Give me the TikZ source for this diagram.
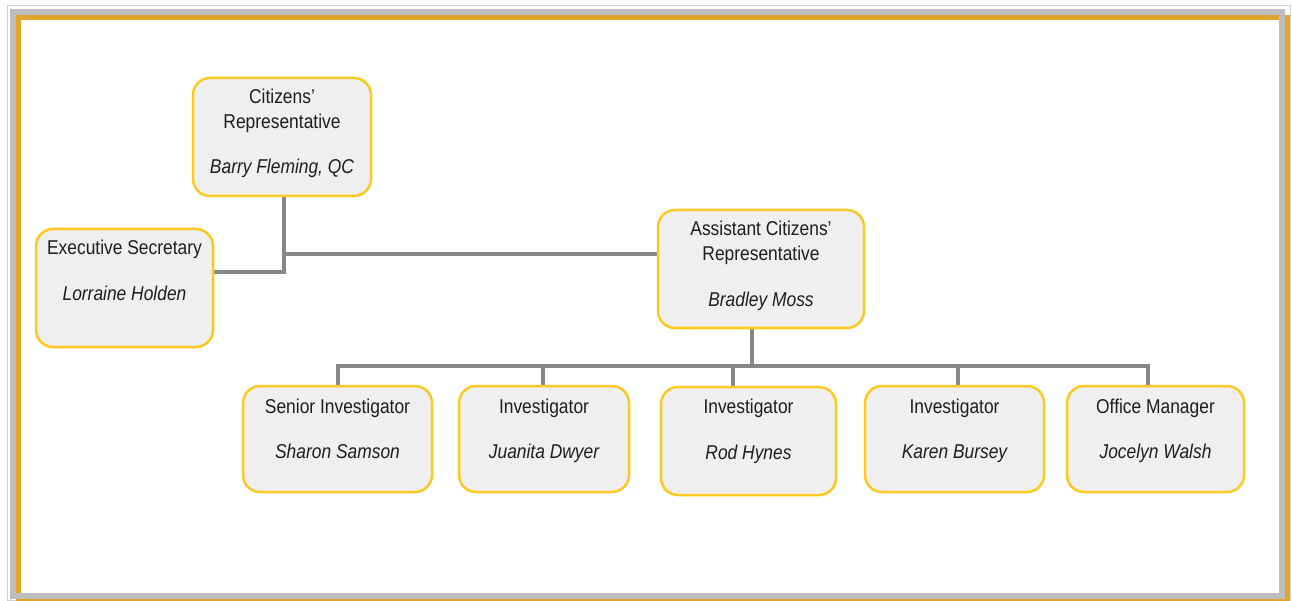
\documentclass[tikz,border=0pt]{standalone}
\usepackage{fontspec}
\setmainfont{Liberation Sans}[FakeStretch=0.87]
\definecolor{gold}{HTML}{E0A62C}
\definecolor{band}{HTML}{BEBEBE}
\definecolor{thinline}{HTML}{D4D4D4}
\definecolor{boxline}{HTML}{FBC91F}
\definecolor{boxfill}{HTML}{EFEFEF}
\definecolor{wirecol}{HTML}{878787}
\definecolor{ink}{HTML}{1E1E1E}
\begin{document}
\begin{tikzpicture}[x=1pt,y=-1pt,
  box/.style={draw=boxline, fill=boxfill, line width=2.5pt, rounded corners=17pt, inner sep=0pt},
  ttl/.style={font=\fontsize{20}{24}\selectfont, text=ink, anchor=base, inner sep=0pt},
  nm/.style={font=\fontsize{20}{24}\selectfont\itshape, text=ink, anchor=base, inner sep=0pt},
  wire/.style={draw=wirecol, line width=4pt}]
\useasboundingbox (0,0) rectangle (1292,601);
% frame
\draw[thinline, line width=1pt] (7.5,5.5) rectangle (1290.5,600);
\draw[gold, line width=5pt] (18.5,17.5) rectangle (1287.5,599.5);
\draw[band, line width=6pt] (13,12) rectangle (1282,595.5);
% junction coordinates
\coordinate (j1) at (284,272);
\coordinate (j2) at (284,254);
\coordinate (b0) at (752,366);
\coordinate (d1) at (337.5,366);
\coordinate (d2) at (543,366);
\coordinate (d3) at (733,366);
\coordinate (d4) at (958,366);
\coordinate (d5) at (1148,366);
% boxes (placed first for anchors, drawn over wires later)
\path (282,137) node[minimum width=178pt, minimum height=118pt] (cr) {};
\path (124.5,288) node[minimum width=177pt, minimum height=118pt] (es) {};
\path (761,269) node[minimum width=206pt, minimum height=118pt] (acr) {};
\path (337.5,439) node[minimum width=189pt, minimum height=106pt] (si) {};
\path (544,439) node[minimum width=170pt, minimum height=106pt] (jd) {};
\path (748.5,441) node[minimum width=175pt, minimum height=108pt] (rh) {};
\path (954.5,439) node[minimum width=179pt, minimum height=106pt] (kb) {};
\path (1155.5,439) node[minimum width=177pt, minimum height=106pt] (om) {};
% wires
\draw[wire] (j1 |- cr.south) -- (j1) -- (es.east |- j1);
\draw[wire] (j2) -- (acr.west |- j2);
\draw[wire] (b0 |- acr.south) -- (b0);
\draw[wire] (d1 |- si.north) -- (d1) -- (d5) -- (d5 |- om.north);
\draw[wire] (d2) -- (d2 |- jd.north);
\draw[wire] (d3) -- (d3 |- rh.north);
\draw[wire] (d4) -- (d4 |- kb.north);
% visible boxes
\node[box, minimum width=178pt, minimum height=118pt] at (cr) {};
\node[box, minimum width=177pt, minimum height=118pt] at (es) {};
\node[box, minimum width=206pt, minimum height=118pt] at (acr) {};
\node[box, minimum width=189pt, minimum height=106pt] at (si) {};
\node[box, minimum width=170pt, minimum height=106pt] at (jd) {};
\node[box, minimum width=175pt, minimum height=108pt] at (rh) {};
\node[box, minimum width=179pt, minimum height=106pt] at (kb) {};
\node[box, minimum width=177pt, minimum height=106pt] at (om) {};
% texts
\node[ttl] (cr1) at (282,104) {Citizens’};
\node[ttl] (cr2) at (282,129) {Representative};
\node[nm]  (cr3) at (282,174) {Barry Fleming, QC};
\node[ttl] (es1) at (124.5,255) {Executive Secretary};
\node[nm]  (es2) at (124.5,301) {Lorraine Holden};
\node[ttl] (ac1) at (761,236) {Assistant Citizens’};
\node[ttl] (ac2) at (761,261) {Representative};
\node[nm]  (ac3) at (761,307) {Bradley Moss};
\node[ttl] (si1) at (337.5,413) {Senior Investigator};
\node[nm]  (si2) at (337.5,458) {Sharon Samson};
\node[ttl] (jd1) at (544,413) {Investigator};
\node[nm]  (jd2) at (544,458) {Juanita Dwyer};
\node[ttl] (rh1) at (748.5,413) {Investigator};
\node[nm]  (rh2) at (748.5,459) {Rod Hynes};
\node[ttl] (kb1) at (954.5,413) {Investigator};
\node[nm]  (kb2) at (954.5,458) {Karen Bursey};
\node[ttl] (om1) at (1155.5,413) {Office Manager};
\node[nm]  (om2) at (1155.5,458) {Jocelyn Walsh};
\end{tikzpicture}
\end{document}
